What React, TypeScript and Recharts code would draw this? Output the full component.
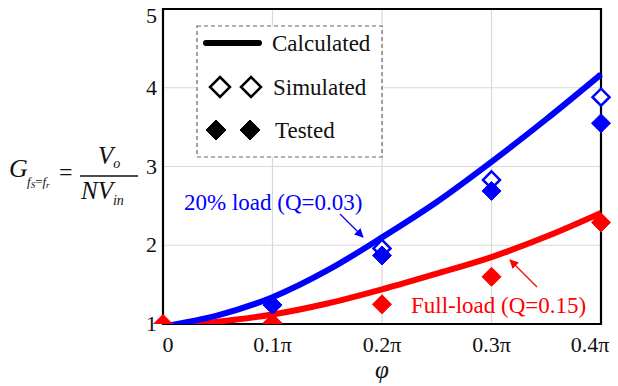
import React from 'react';
import { ComposedChart, Line, Scatter, XAxis, YAxis, CartesianGrid, ReferenceArea } from 'recharts';

const phi = [0, 0.05, 0.1, 0.15, 0.2, 0.25, 0.3, 0.35, 0.4];
const calc20 = [0.97, 1.11, 1.34, 1.68, 2.1, 2.55, 3.06, 3.6, 4.17];
const calcFull = [0.97, 1.03, 1.12, 1.26, 1.44, 1.64, 1.85, 2.11, 2.41];

const simPhi = [0.2, 0.3, 0.4];
const sim20 = [1.96, 2.83, 3.88];

const testPhi = [0.1, 0.2, 0.3, 0.4];
const test20 = [1.24, 1.87, 2.69, 3.55];

const testFullPhi = [0, 0.1, 0.2, 0.3, 0.4];
const testFull = [1.0, 1.01, 1.25, 1.6, 2.29];

const xTicks = [0, 0.1, 0.2, 0.3, 0.4];
const xTickLabels = ['0', '0.1π', '0.2π', '0.3π', '0.4π'];
const yTicks = [1, 2, 3, 4, 5];

const curveData = phi.map((x, i) => ({ x, blue: calc20[i], red: calcFull[i] }));
const simData = simPhi.map((x, i) => ({ x, y: sim20[i] }));
const testData = testPhi.map((x, i) => ({ x, y: test20[i] }));
const testFullData = testFullPhi.map((x, i) => ({ x, y: testFull[i] }));

const SERIF = 'Times New Roman';

const T = (p: any) => {
  const { children, ...rest } = p;
  return (
    <text style={{ fontFamily: SERIF }} {...rest}>
      {children}
    </text>
  );
};

const diamond = (color: string, filled: boolean) => (props: any) => {
  const { cx, cy } = props;
  if (cx == null || cy == null) return <g />;
  const r = filled ? 9.5 : 8.5;
  const pts = `${cx},${cy - r} ${cx + r},${cy} ${cx},${cy + r} ${cx - r},${cy}`;
  return (
    <polygon
      points={pts}
      fill={filled ? color : '#fff'}
      stroke={color}
      strokeWidth={filled ? 1 : 2.5}
    />
  );
};

const XTick = (props: any) => {
  const { x, y, payload } = props;
  const i = xTicks.indexOf(payload.value);
  return (
    <T x={Math.min(Math.max(x, 168), 590)} y={y + 20} textAnchor="middle" fontSize={22} fill="#111">
      {xTickLabels[i] ?? String(payload.value)}
    </T>
  );
};

const YTick = (props: any) => {
  const { x, y, payload } = props;
  const yy = Math.max(y, 16);
  return (
    <T x={x} y={yy + 7} textAnchor="end" fontSize={22} fill="#111">
      {payload.value}
    </T>
  );
};

const Diamond = ({ x, y, filled }: { x: number; y: number; filled: boolean }) => {
  const r = 10;
  return (
    <polygon
      points={`${x},${y - r} ${x + r},${y} ${x},${y + r} ${x - r},${y}`}
      fill={filled ? '#000' : '#fff'}
      stroke="#000"
      strokeWidth={filled ? 1 : 2.5}
    />
  );
};

export default function App() {
  return (
    <div style={{ position: 'absolute', left: 0, top: 0, width: 618, height: 386, background: '#fff' }}>
      <ComposedChart
        width={618}
        height={386}
        data={curveData}
        margin={{ top: 9, right: 17, bottom: 0, left: 0 }}
      >
        <CartesianGrid stroke="#d9d9d9" strokeWidth={1.2} />
        <XAxis
          type="number"
          dataKey="x"
          domain={[0, 0.4]}
          ticks={xTicks}
          tickLine={false}
          axisLine={false}
          height={62}
          tick={<XTick />}
          interval={0}
        />
        <YAxis
          type="number"
          domain={[1, 5]}
          ticks={yTicks}
          tickLine={false}
          axisLine={false}
          width={163}
          tickMargin={0}
          tick={<YTick />}
          interval={0}
          allowDataOverflow
        />
        <ReferenceArea x1={0} x2={0.4} y1={1} y2={5} fill="none" stroke="#000" strokeWidth={2.2} ifOverflow="visible" />
        <Line dataKey="red" type="monotone" stroke="#ff0000" strokeWidth={6} dot={false} isAnimationActive={false} />
        <Line dataKey="blue" type="monotone" stroke="#0000ff" strokeWidth={6} dot={false} isAnimationActive={false} />
        <Scatter data={simData} dataKey="y" shape={diamond('#0000ff', false)} isAnimationActive={false} />
        <Scatter data={testData} dataKey="y" shape={diamond('#0000ff', true)} isAnimationActive={false} />
        <Scatter data={testFullData} dataKey="y" shape={diamond('#ff0000', true)} isAnimationActive={false} />
      </ComposedChart>
      <svg
        width={618}
        height={386}
        style={{ position: 'absolute', left: 0, top: 0, pointerEvents: 'none' }}
      >
        <defs>
          <marker id="ab" viewBox="0 0 10 10" refX="9" refY="5" markerWidth="7" markerHeight="7" orient="auto">
            <path d="M0,0 L10,5 L0,10 z" fill="#0000ff" />
          </marker>
          <marker id="ar" viewBox="0 0 10 10" refX="9" refY="5" markerWidth="7" markerHeight="7" orient="auto">
            <path d="M0,0 L10,5 L0,10 z" fill="#ff0000" />
          </marker>
        </defs>
        <rect x={197} y={26} width={185} height={131} fill="#fff" stroke="#666" strokeWidth={1.2} strokeDasharray="4 3" />
        <line x1={206} y1={43} x2={259} y2={43} stroke="#000" strokeWidth={6} strokeLinecap="round" />
        <T x={272} y={51} fontSize={23} fill="#111">Calculated</T>
        <Diamond x={220} y={87} filled={false} />
        <Diamond x={251} y={87} filled={false} />
        <T x={273} y={95} fontSize={23} fill="#111">Simulated</T>
        <Diamond x={216} y={130} filled />
        <Diamond x={250} y={130} filled />
        <T x={275} y={138} fontSize={23} fill="#111">Tested</T>
        <T x={184} y={210} fontSize={23} fill="#0000ff">20% load (Q=0.03)</T>
        <line x1={340} y1={214} x2={363} y2={237} stroke="#0000ff" strokeWidth={1.3} markerEnd="url(#ab)" />
        <T x={411} y={313} fontSize={23} fill="#ff0000">Full-load (Q=0.15)</T>
        <line x1={537} y1={287} x2={510} y2={260} stroke="#ff0000" strokeWidth={1.3} markerEnd="url(#ar)" />
        <T x={9} y={177} fontSize={26} fontStyle="italic" fill="#111">G</T>
        <T x={27} y={186} fontSize={13} fontStyle="italic" fill="#111">f<tspan fontSize={9} dy={2}>S</tspan><tspan dy={-2} fontStyle="normal">=</tspan>f<tspan fontSize={9} dy={2}>r</tspan></T>
        <T x={59} y={180} fontSize={24} fill="#111">=</T>
        <T x={98} y={164} fontSize={25} fontStyle="italic" fill="#111">V<tspan fontSize={14} dy={4}>o</tspan></T>
        <line x1={80} y1={176} x2={138} y2={176} stroke="#111" strokeWidth={1.3} />
        <T x={81} y={199} fontSize={25} fontStyle="italic" fill="#111">NV<tspan fontSize={14} dy={6}>in</tspan></T>
        <T x={382} y={378} fontSize={25} fontStyle="italic" textAnchor="middle" fill="#111">φ</T>
      </svg>
    </div>
  );
}
